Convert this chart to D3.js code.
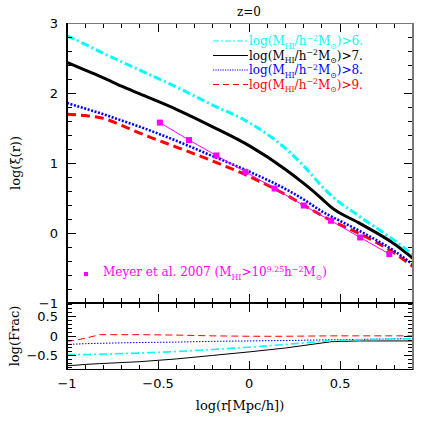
<!DOCTYPE html>
<html><head><meta charset="utf-8">
<script src="https://cdn.jsdelivr.net/npm/d3@7"></script>
<style>body{margin:0;background:#fff}svg{display:block}</style>
</head><body>
<script>
// ---- data ----
const logR = [-1,-0.9,-0.8,-0.7,-0.6,-0.4,-0.2,0,0.2,0.3,0.4,0.45,0.6,0.8,0.9];
const xiM6 = [2.82,2.70,2.57,2.45,2.33,2.09,1.83,1.58,1.21,0.96,0.67,0.54,0.25,-0.11,-0.31];
const xiM7 = [2.44,2.33,2.22,2.10,1.99,1.77,1.52,1.25,0.91,0.71,0.49,0.37,0.15,-0.16,-0.36];
const xiM8 = [1.86,1.78,1.70,1.61,1.52,1.32,1.10,0.88,0.63,0.48,0.31,0.24,0.04,-0.26,-0.45];
const xiM9 = [1.70,1.68,1.64,1.54,1.43,1.23,1.03,0.81,0.55,0.40,0.25,0.18,0.0,-0.29,-0.48];

const logRobs = [-0.49,-0.33,-0.18,-0.02,0.14,0.30,0.45,0.61,0.77];
const xiObs = [1.58,1.33,1.11,0.876,0.637,0.394,0.176,-0.063,-0.30];

const logRfrac = [-1,-0.95,-0.9,-0.82,-0.6,-0.4,-0.2,0,0.2,0.45,0.6,0.9];
const fracM6 = [-0.47,-0.47,-0.47,-0.46,-0.43,-0.39,-0.34,-0.28,-0.21,-0.11,-0.09,-0.06];
const fracM7 = [-0.75,-0.74,-0.72,-0.70,-0.65,-0.58,-0.49,-0.40,-0.30,-0.14,-0.12,-0.12];
const fracM8 = [-0.21,-0.20,-0.19,-0.18,-0.16,-0.15,-0.13,-0.12,-0.11,-0.09,-0.08,-0.06];
const fracM9 = [-0.13,-0.10,-0.05,0.04,0.04,0.03,0.01,0.0,0.0,0.01,0.01,0.01];

const legendThresholds = ["6.","7.","8.","9."];
const xTickVals = [-1,-0.5,0,0.5];
const yTickVals = [3,2,1,0,-1];
const fracTickVals = [0.5,0,-0.5];

// ---- layout ----
const W=436,H=436;
const svg=d3.select("body").append("svg").attr("width",W).attr("height",H);
const X0=67,X1=413, UT=23.3, UB=303, LB=369.5;
const x=d3.scaleLinear().domain([-1,0.9]).range([X0,X1]);
const y=d3.scaleLinear().domain([-1,3]).range([UB,UT]);
const yf=d3.scaleLinear().domain([-0.85,0.85]).range([LB,UB]);

const styles = [
  {c:"#00ffff", dash:"8,3,2,3", ldash:"6,2,2,2"},
  {c:"#000000", dash:null, ldash:null},
  {c:"#0000ff", dash:"2,1.6", ldash:"1.2,1.2"},
  {c:"#ff0000", dash:"9,5", ldash:"6,4"}
];
const xiSeries=[xiM6,xiM7,xiM8,xiM9];
const fracSeries=[fracM6,fracM7,fracM8,fracM9];

const fmt = v => (v<0?"\u2212":"")+Math.abs(v);
const tickFont = "DejaVu Sans", labFont="DejaVu Serif";

// clip
const defs=svg.append("defs");
defs.append("clipPath").attr("id","cu").append("rect").attr("x",X0).attr("y",UT).attr("width",X1-X0).attr("height",UB-UT);
defs.append("clipPath").attr("id","cl").append("rect").attr("x",X0).attr("y",UB).attr("width",X1-X0).attr("height",LB-UB);

// upper curves
const gU=svg.append("g").attr("clip-path","url(#cu)");
const line=d3.line().x((d,i)=>x(logR[i])).y(d=>y(d)).curve(d3.curveMonotoneX);
[3,2,1,0].forEach(k=>{
  gU.append("path").attr("d",line(xiSeries[k])).attr("fill","none")
    .attr("stroke",styles[k].c).attr("stroke-width",k===2?2.6:3)
    .attr("stroke-dasharray",styles[k].dash);
});
// observations
const lineObs=d3.line().x((d,i)=>x(logRobs[i])).y(d=>y(d));
gU.append("path").attr("d",lineObs(xiObs)).attr("fill","none").attr("stroke","#ff00ff").attr("stroke-width",1);
gU.selectAll("rect.obs").data(xiObs).enter().append("rect")
  .attr("x",(d,i)=>x(logRobs[i])-3).attr("y",d=>y(d)-3).attr("width",6).attr("height",6).attr("fill","#ff00ff");

// lower curves
const gL=svg.append("g").attr("clip-path","url(#cl)");
const lineF=d3.line().x((d,i)=>x(logRfrac[i])).y(d=>yf(d));
[3,2,1,0].forEach(k=>{
  gL.append("path").attr("d",lineF(fracSeries[k])).attr("fill","none")
    .attr("stroke",styles[k].c).attr("stroke-width",k===0?1.6:1)
    .attr("stroke-dasharray",styles[k].dash? (k===3?"7,4":k===2?"1.5,1.5":"8,3,2,3"):null);
});

// frames & ticks
function ticks(g, scaleX, scaleY, top, bottom, yMaj, yMinor){
  const xs=d3.range(-1,0.9001,0.1).map(v=>+v.toFixed(2));
  xs.forEach(v=>{
    const maj = Math.abs(v*2-Math.round(v*2))<1e-6;
    const L = maj?9:5;
    g.append("line").attr("x1",scaleX(v)).attr("x2",scaleX(v)).attr("y1",bottom).attr("y2",bottom-L).attr("stroke","#000");
    g.append("line").attr("x1",scaleX(v)).attr("x2",scaleX(v)).attr("y1",top).attr("y2",top+L).attr("stroke","#000");
  });
  yMinor.forEach(v=>{
    const maj = yMaj.some(m=>Math.abs(m-v)<1e-6);
    const L = maj?9:5;
    g.append("line").attr("x1",X0).attr("x2",X0+L).attr("y1",scaleY(v)).attr("y2",scaleY(v)).attr("stroke","#000");
    g.append("line").attr("x1",X1).attr("x2",X1-L).attr("y1",scaleY(v)).attr("y2",scaleY(v)).attr("stroke","#000");
  });
}
const gA=svg.append("g").attr("shape-rendering","crispEdges");
ticks(gA,x,y,UT,UB,yTickVals,d3.range(-1,3.0001,0.2).map(v=>+v.toFixed(2)));
ticks(gA,x,yf,UB,LB,fracTickVals,d3.range(-0.8,0.8001,0.1).map(v=>+v.toFixed(2)));
// borders
gA.append("line").attr("x1",X0).attr("x2",X1).attr("y1",UT).attr("y2",UT).attr("stroke","#777").attr("stroke-width",1.5);
gA.append("line").attr("x1",X1).attr("x2",X1).attr("y1",UT).attr("y2",LB).attr("stroke","#777").attr("stroke-width",1.5);
gA.append("line").attr("x1",X0).attr("x2",X0).attr("y1",UT).attr("y2",LB).attr("stroke","#000").attr("stroke-width",1.2);
gA.append("line").attr("x1",X0).attr("x2",X1).attr("y1",UB).attr("y2",UB).attr("stroke","#000").attr("stroke-width",1.2);
gA.append("line").attr("x1",X0).attr("x2",X1).attr("y1",LB).attr("y2",LB).attr("stroke","#000").attr("stroke-width",1.2);

// tick labels
svg.selectAll("text.xt").data(xTickVals).enter().append("text")
  .attr("x",d=>x(d)).attr("y",388).attr("text-anchor","middle")
  .attr("font-family",tickFont).attr("font-size",13).text(fmt);
svg.selectAll("text.yt").data(yTickVals).enter().append("text")
  .attr("x",58).attr("y",d=>y(d)+4.5).attr("text-anchor","end")
  .attr("font-family",tickFont).attr("font-size",13).text(fmt);
svg.selectAll("text.ft").data(fracTickVals).enter().append("text")
  .attr("x",58).attr("y",d=>yf(d)+4.5).attr("text-anchor","end")
  .attr("font-family",tickFont).attr("font-size",13).text(fmt);

// rich text helper
function rich(sel, parts, fs){
  let shift=0;
  parts.forEach(([t,m])=>{
    const target = m==="sub"? fs*0.3 : m==="sup"? -fs*0.35 : 0;
    sel.append("tspan").attr("dy",target-shift).attr("font-size", m==="n"?fs:fs*0.65).text(t);
    shift=target;
  });
  if(shift!==0) sel.append("tspan").attr("dy",-shift).text("\u200b");
}

// axis titles
svg.append("text").attr("x",240).attr("y",410).attr("text-anchor","middle")
  .attr("font-family",labFont).attr("font-size",13).text("log(r[Mpc/h])");
svg.append("text").attr("transform","translate(20,163) rotate(-90)").attr("text-anchor","middle")
  .attr("font-family",labFont).attr("font-size",13).text("log(\u03be(r))");
svg.append("text").attr("transform","translate(19,336) rotate(-90)").attr("text-anchor","middle")
  .attr("font-family",labFont).attr("font-size",13).text("log(Frac)");
svg.append("text").attr("x",249).attr("y",16).attr("text-anchor","middle")
  .attr("font-family",labFont).attr("font-size",12).text("z=0");

// legend
const legY=[41,55.5,70,84.5];
legendThresholds.forEach((t,i)=>{
  const s=styles[i];
  svg.append("line").attr("x1",213).attr("x2",248).attr("y1",legY[i]).attr("y2",legY[i])
    .attr("stroke",s.c).attr("stroke-width",1).attr("stroke-dasharray",s.ldash);
  const tx=svg.append("text").attr("x",249).attr("y",legY[i]+4).attr("font-family",labFont)
    .attr("font-size",12).attr("fill",s.c);
  rich(tx,[["log(M","n"],["HI","sub"],["/h","n"],["\u22122","sup"],["M","n"],["\u2299","sub"],[")>"+t,"n"]],12);
});
// obs legend
svg.append("rect").attr("x",84).attr("y",272).attr("width",4).attr("height",4).attr("fill","#ff00ff");
const ot=svg.append("text").attr("x",103).attr("y",276).attr("font-family",labFont).attr("font-size",12).attr("fill","#ff00ff");
rich(ot,[["Meyer et al. 2007 (M","n"],["HI","sub"],[">10","n"],["9.25","sup"],["h","n"],["\u22122","sup"],["M","n"],["\u2299","sub"],[")","n"]],12);
</script>
</body></html>
